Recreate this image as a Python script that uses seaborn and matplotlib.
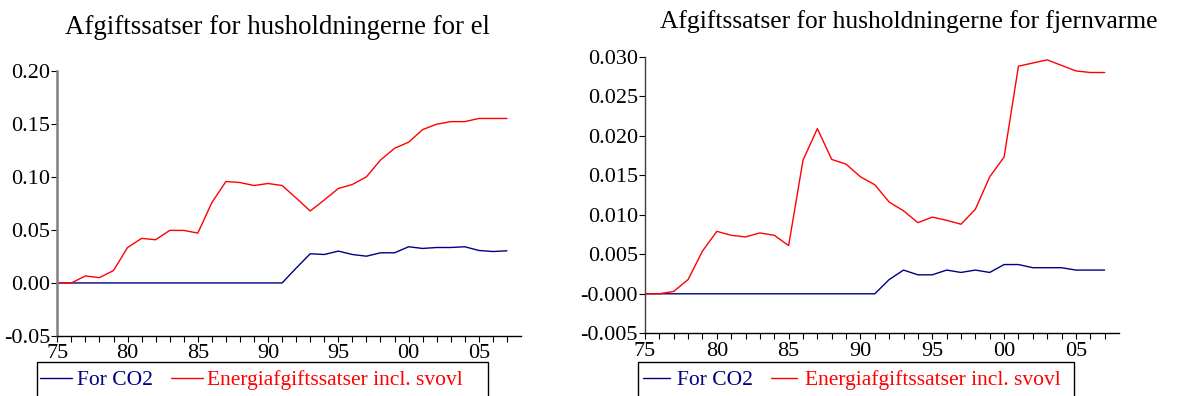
import numpy as np
import pandas as pd
import matplotlib
matplotlib.use("Agg")
import matplotlib.pyplot as plt
from matplotlib.patches import Rectangle
from matplotlib.lines import Line2D
import seaborn as sns

# Tax rates for households, 1975-2007
years = list(range(1975, 2008))

el_co2 = [0, 0, 0, 0, 0, 0, 0, 0, 0, 0, 0, 0, 0, 0, 0, 0, 0,
          0.014, 0.0275, 0.0268, 0.030, 0.0268, 0.0252, 0.0284, 0.0284,
          0.0341, 0.0325, 0.0334, 0.0334, 0.0341, 0.0306, 0.0296, 0.0303]
el_energy = [0, 0, 0.0066, 0.005, 0.0117, 0.0334, 0.042, 0.0407, 0.0495, 0.0495,
             0.047, 0.0757, 0.0956, 0.0946, 0.0918, 0.0937, 0.0918, 0.080, 0.0678, 0.0782,
             0.089, 0.0928, 0.100, 0.1158, 0.1269, 0.1326, 0.1445, 0.1496, 0.152, 0.152,
             0.155, 0.155, 0.155]

fv_co2 = [0, 0, 0, 0, 0, 0, 0, 0, 0, 0, 0, 0, 0, 0, 0, 0, 0,
          0.0018, 0.0030, 0.0024, 0.0024, 0.0030, 0.0027, 0.0030, 0.0027,
          0.0037, 0.0037, 0.0033, 0.0033, 0.0033, 0.0030, 0.0030, 0.0030]
fv_energy = [0, 0, 0.0003, 0.0018, 0.0054, 0.0079, 0.0074, 0.0072, 0.0077, 0.0074,
             0.0061, 0.0169, 0.0209, 0.0170, 0.0164, 0.0148, 0.0138, 0.0116, 0.0105, 0.0090,
             0.0097, 0.0093, 0.0088, 0.0107, 0.0148, 0.0173, 0.0288, 0.0292, 0.0296, 0.0289,
             0.0282, 0.0280, 0.0280]

series_names = ["For CO2", "Energiafgiftssatser incl. svovl"]
series_colors = ["#000080", "#ff0000"]

titles = ["Afgiftssatser for husholdningerne for el",
          "Afgiftssatser for husholdningerne for fjernvarme"]
el_yticks = [-0.05, 0.00, 0.05, 0.10, 0.15, 0.20]
el_ylabels = ["-0.05", "0.00", "0.05", "0.10", "0.15", "0.20"]
fv_yticks = [-0.005, 0.000, 0.005, 0.010, 0.015, 0.020, 0.025, 0.030]
fv_ylabels = ["-0.005", "-0.000", "0.005", "0.010", "0.015", "0.020", "0.025", "0.030"]

sns.set_style("ticks")
plt.rcParams["font.family"] = ["Liberation Serif", "DejaVu Serif"]
plt.rcParams["text.color"] = "black"
plt.rcParams["xtick.color"] = "black"
plt.rcParams["ytick.color"] = "black"
plt.rcParams["axes.labelcolor"] = "black"

fig = plt.figure(figsize=(11.82, 3.96), dpi=100)
W, H = 1182, 396


def px_rect(x0, y0, x1, y1):
    return [x0 / W, 1 - y1 / H, (x1 - x0) / W, (y1 - y0) / H]


ax_el = fig.add_axes(px_rect(57.3, 70.7, 521, 336))
ax_fv = fig.add_axes(px_rect(645, 56.7, 1119, 333.3))


def long_frame(co2, energy):
    return pd.DataFrame({
        "year": years * 2,
        "value": list(co2) + list(energy),
        "series": [series_names[0]] * len(years) + [series_names[1]] * len(years),
    })


panels = [
    (ax_el, long_frame(el_co2, el_energy), el_yticks, el_ylabels, (-0.05, 0.20), "#808080", 1.8),
    (ax_fv, long_frame(fv_co2, fv_energy), fv_yticks, fv_ylabels, (-0.005, 0.030), "#404040", 1.0),
]

for ax, df, yt, yl, ylim, yspine_col, yspine_lw in panels:
    sns.lineplot(data=df, x="year", y="value", hue="series",
                 hue_order=series_names, palette=series_colors,
                 linewidth=1.0, legend=False, ax=ax)
    ax.set_xlim(1975, 2008)
    ax.set_ylim(*ylim)
    ax.set_xticks(years)
    ax.set_xticklabels([f"{y % 100:02d}" if y % 5 == 0 else "" for y in years])
    ax.set_yticks(yt)
    ax.set_yticklabels(yl)
    ax.set_xlabel("")
    ax.set_ylabel("")
    for s in ("top", "right"):
        ax.spines[s].set_visible(False)
    ax.spines["bottom"].set_color("black")
    ax.spines["bottom"].set_linewidth(1.0)
    ax.spines["left"].set_color(yspine_col)
    ax.spines["left"].set_linewidth(yspine_lw)
    ax.tick_params(axis="x", direction="out", length=4, width=0.8, pad=2,
                   labelsize=16, colors="black")
    ax.tick_params(axis="y", direction="out", length=4, width=0.8, pad=1,
                   labelsize=16, colors="black")
    ax.set_facecolor("white")

# Titles
fig.text(277.5 / W, 1 - 28 / H, titles[0], ha="center", va="center", fontsize=19.4)
fig.text(909 / W, 1 - 22 / H, titles[1], ha="center", va="center", fontsize=18.4)

# Legends below each panel, inside a framed box
legend_specs = [
    (ax_el, (37, 362, 488), 40, 1.5, 0.2, 0.85),
    (ax_fv, (638, 362, 1074), 643, 1.25, 0.35, 0.8),
]
for ax, (bx0, by0, bx1), lx, hlen, htp, cspace in legend_specs:
    handles = [Line2D([], [], color=c, lw=1.0) for c in series_colors]
    leg = ax.legend(handles, series_names, loc="center left",
                    bbox_to_anchor=(lx / W, 1 - 380 / H),
                    bbox_transform=fig.transFigure, ncol=2, frameon=False,
                    fontsize=15.5, handlelength=hlen, handletextpad=htp,
                    columnspacing=cspace, borderpad=0, borderaxespad=0)
    for txt, c in zip(leg.get_texts(), series_colors):
        txt.set_color(c)
    fig.patches.append(Rectangle((bx0 / W, -0.05), (bx1 - bx0) / W, 1 - by0 / H + 0.05,
                                 transform=fig.transFigure, fill=False,
                                 edgecolor="black", linewidth=1.0))

fig.savefig("out.png", dpi=100, facecolor="white")
